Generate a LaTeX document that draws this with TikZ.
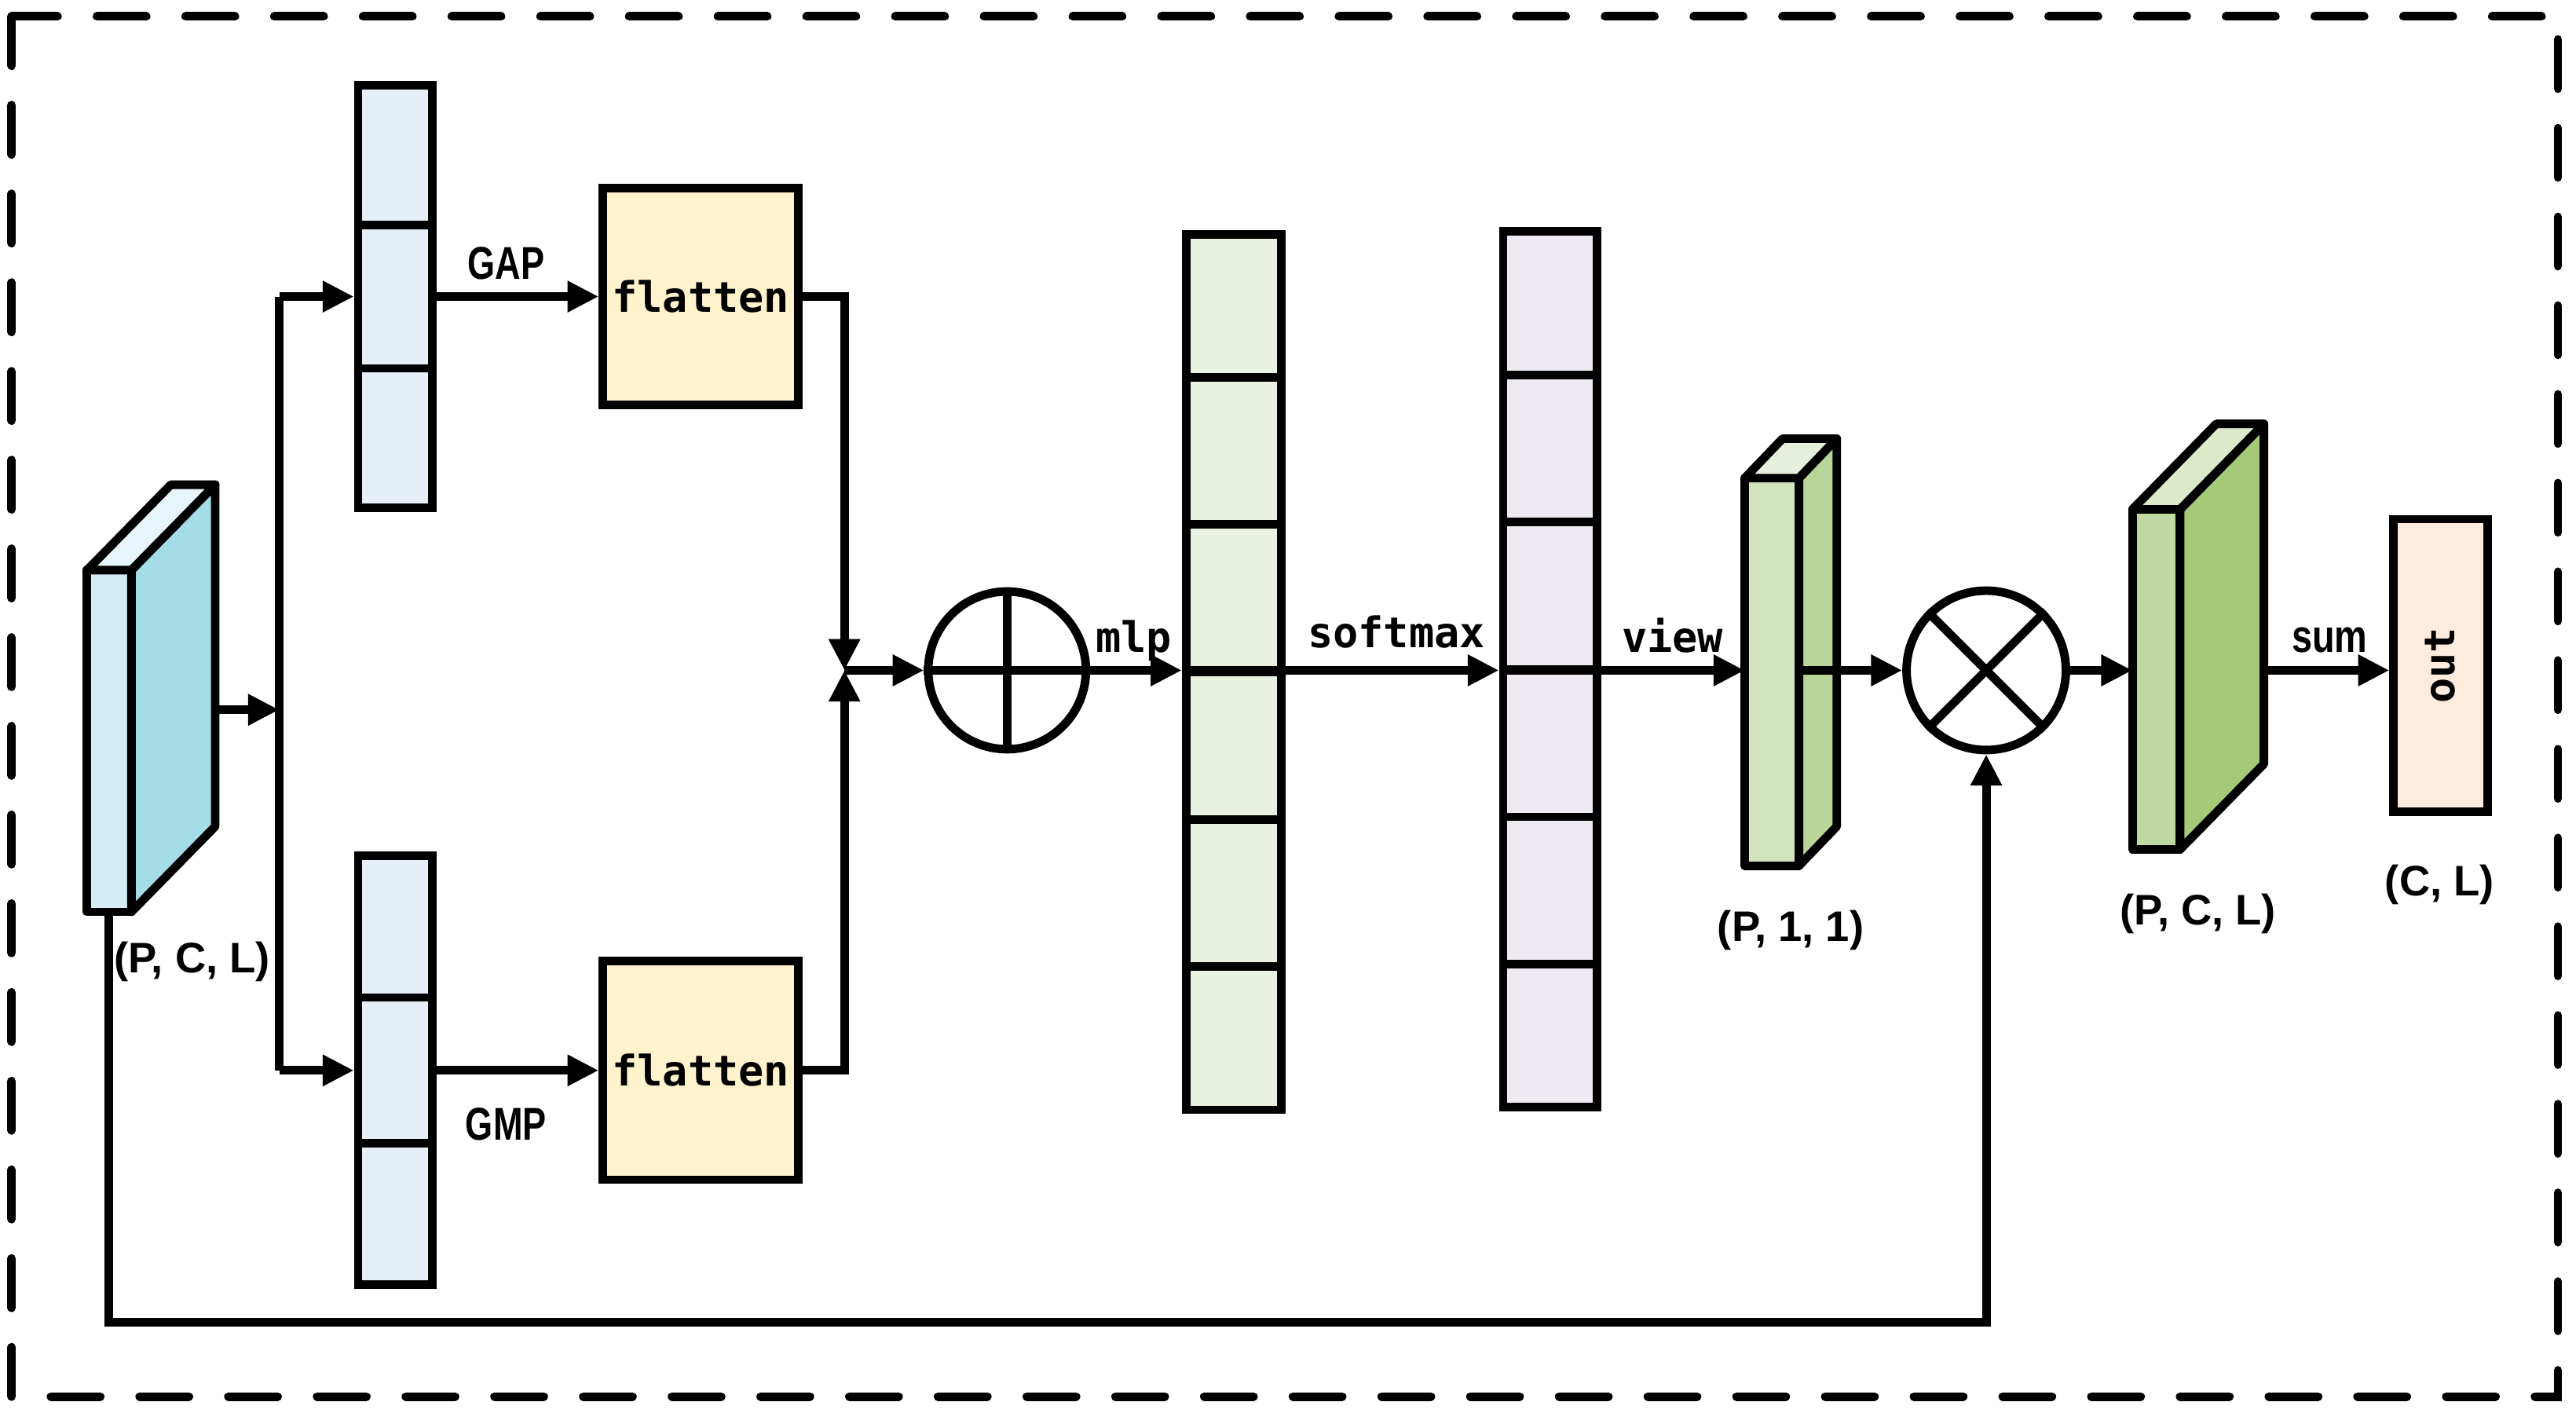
\documentclass[tikz,border=0pt]{standalone}
\usepackage{fontspec}
\setmainfont{Liberation Sans}
\newfontfamily\monof{DejaVu Sans Mono}
\usetikzlibrary{arrows.meta,calc}
\definecolor{inFront}{HTML}{D5EEF3}
\definecolor{inSide}{HTML}{A5DDE7}
\definecolor{inTop}{HTML}{E5F5F9}
\definecolor{colBlue}{HTML}{E6EEF8}
\definecolor{flatCol}{HTML}{FFF2CC}
\definecolor{colGreen}{HTML}{E9F2E0}
\definecolor{colPurple}{HTML}{EFEAF2}
\definecolor{barFront}{HTML}{D5E4C0}
\definecolor{barSide}{HTML}{B9D59A}
\definecolor{barTop}{HTML}{E6EEDC}
\definecolor{bigFront}{HTML}{C0D8A2}
\definecolor{bigSide}{HTML}{A5C879}
\definecolor{bigTop}{HTML}{DCEACB}
\definecolor{outCol}{HTML}{FDEBDD}
\begin{document}
\begin{tikzpicture}[x=0.5pt,y=-0.5pt,
  lw/.style={line width=2.6pt},
  conn/.style={lw,-{Triangle[length=9.5pt,width=9pt]}},
  plain/.style={lw},
  facestyle/.style={lw,draw=black,line join=round},
  boxstyle/.style={draw,lw,rectangle,inner sep=0pt},
  opcircle/.style={draw,lw,circle,inner sep=0pt,minimum size=48pt},
  monolbl/.style={font=\monof\bfseries\fontsize{12.8}{14}\selectfont,inner sep=0pt},
  sanslbl/.style={font=\bfseries\fontsize{13}{15}\selectfont,inner sep=0pt},
  narrowlbl/.style={font=\bfseries\fontsize{14}{16}\selectfont,inner sep=0pt}
]
\useasboundingbox (0,0) rectangle (1568,860);
\fill[white] (0,0) rectangle (1568,860);
% dashed frame
\draw[lw,line cap=round,dash pattern=on 15pt off 12pt] (7,10) rectangle (1557,850);

% input block
\filldraw[facestyle,fill=inFront] (53,347) rectangle (80,555);
\filldraw[facestyle,fill=inSide] (80,347) -- (131,295) -- (131,503) -- (80,555) -- cycle;
\filldraw[facestyle,fill=inTop] (53,347) -- (104,295) -- (131,295) -- (80,347) -- cycle;
\coordinate (inR) at (131,432);
\coordinate (inB) at (66,555);
\node[sanslbl,anchor=base] (lblin) at (117,592) {(P, C, L)};

% split
\coordinate (split) at (170,432);
\coordinate (splitT) at (170,180.5);
\coordinate (splitB) at (170,651.5);

% blue columns
\node[boxstyle,fill=colBlue,minimum width=22.5pt,minimum height=128.5pt] (gapcol) at (240.5,180.5) {};
\node[boxstyle,fill=colBlue,minimum width=22.5pt,minimum height=130.5pt] (gmpcol) at (240.5,651.5) {};
\foreach \k in {1,2} {
  \draw[plain] ($(gapcol.north west)!\k/3!(gapcol.south west)$) -- ($(gapcol.north east)!\k/3!(gapcol.south east)$);
  \draw[plain] ($(gmpcol.north west)!\k/3!(gmpcol.south west)$) -- ($(gmpcol.north east)!\k/3!(gmpcol.south east)$);
}

% flatten boxes
\node[boxstyle,fill=flatCol,minimum width=59.5pt,minimum height=66pt,monolbl] (fl1) at (426.5,180.5) {flatten};
\node[boxstyle,fill=flatCol,minimum width=59.5pt,minimum height=66.5pt,monolbl] (fl2) at (426.5,651.5) {flatten};
\node[narrowlbl,anchor=base] (lgap) at (308,170) {\scalebox{0.77}[1]{GAP}};
\node[narrowlbl,anchor=base] (lgmp) at (308,694) {\scalebox{0.77}[1]{GMP}};

% junction and plus
\coordinate (junc) at (514,408);
\node[opcircle] (plus) at (613,408) {};
\draw[plain] (plus.north) -- (plus.south);
\draw[plain] (plus.west) -- (plus.east);

% green and purple columns
\node[boxstyle,fill=colGreen,minimum width=29pt,minimum height=266.5pt] (green) at (751,409) {};
\node[boxstyle,fill=colPurple,minimum width=28.5pt,minimum height=266.5pt] (purple) at (943.5,407.5) {};
\foreach \k in {1,...,5} {
  \draw[plain] ($(green.north west)!\k/6!(green.south west)$) -- ($(green.north east)!\k/6!(green.south east)$);
  \draw[plain] ($(purple.north west)!\k/6!(purple.south west)$) -- ($(purple.north east)!\k/6!(purple.south east)$);
}
\coordinate (gL) at (green.west |- junc);
\coordinate (gR) at (green.east |- junc);
\coordinate (pL) at (purple.west |- junc);
\coordinate (pR) at (purple.east |- junc);
\node[monolbl,anchor=base] (lmlp) at (690,397) {mlp};
\node[monolbl,anchor=base] (lsoft) at (850,394) {softmax};
\node[monolbl,anchor=base] (lview) at (1018,397) {view};

% small green bar
\filldraw[facestyle,fill=barFront] (1062,291) rectangle (1095,527);
\filldraw[facestyle,fill=barSide] (1095,291) -- (1118,267) -- (1118,503) -- (1095,527) -- cycle;
\filldraw[facestyle,fill=barTop] (1062,291) -- (1085,267) -- (1118,267) -- (1095,291) -- cycle;
\coordinate (barL) at (1062,408);
\coordinate (barM) at (1095,408);
\coordinate (barR) at (1118,408);
\node[sanslbl,anchor=base] (lbar) at (1090,573) {(P, 1, 1)};

% times circle
\node[opcircle,minimum size=48.5pt] (times) at (1209,408) {};
\draw[plain] (times.north west) -- (times.south east);
\draw[plain] (times.north east) -- (times.south west);

% big green block
\filldraw[facestyle,fill=bigFront] (1298,310) rectangle (1327,517);
\filldraw[facestyle,fill=bigSide] (1327,310) -- (1378,258) -- (1378,465) -- (1327,517) -- cycle;
\filldraw[facestyle,fill=bigTop] (1298,310) -- (1349,258) -- (1378,258) -- (1327,310) -- cycle;
\coordinate (bigL) at (1298,408);
\coordinate (bigR) at (1378,408);
\node[sanslbl,anchor=base] (lbig) at (1338,563) {(P, C, L)};

% out box
\node[boxstyle,fill=outCol,minimum width=28.5pt,minimum height=89pt,monolbl] (out) at (1485.5,405) {\rotatebox{90}{out}};
\coordinate (outL) at (out.west |- junc);
\node[sanslbl,anchor=base] (lout) at (1485,545) {(C, L)};
\node[narrowlbl,anchor=base] (lsum) at (1418,397) {\scalebox{0.8}[1]{sum}};

% connectors
\draw[conn] (inR) -- (split);
\draw[plain] (splitT) -- (splitB);
\draw[conn] (splitT) -- (gapcol.west);
\draw[conn] (splitB) -- (gmpcol.west);
\draw[conn] (gapcol.east) -- (fl1.west);
\draw[conn] (gmpcol.east) -- (fl2.west);
\draw[conn] (fl1.east) -| (junc);
\draw[conn] (fl2.east) -| (junc);
\draw[conn] (junc) -- (plus.west);
\draw[conn] (plus.east) -- (gL);
\draw[plain] (gL) -- (gR);
\draw[conn] (gR) -- (pL);
\draw[plain] (pL) -- (pR);
\draw[conn] (pR) -- (barL);
\draw[plain] (barM) -- (barR);
\draw[conn] (barR) -- (times.west);
\draw[conn] (times.east) -- (bigL);
\draw[conn] (bigR) -- (outL);
\coordinate (fb1) at (66,805);
\draw[conn] (inB) -- (fb1) -| (times.south);
\end{tikzpicture}
\end{document}
